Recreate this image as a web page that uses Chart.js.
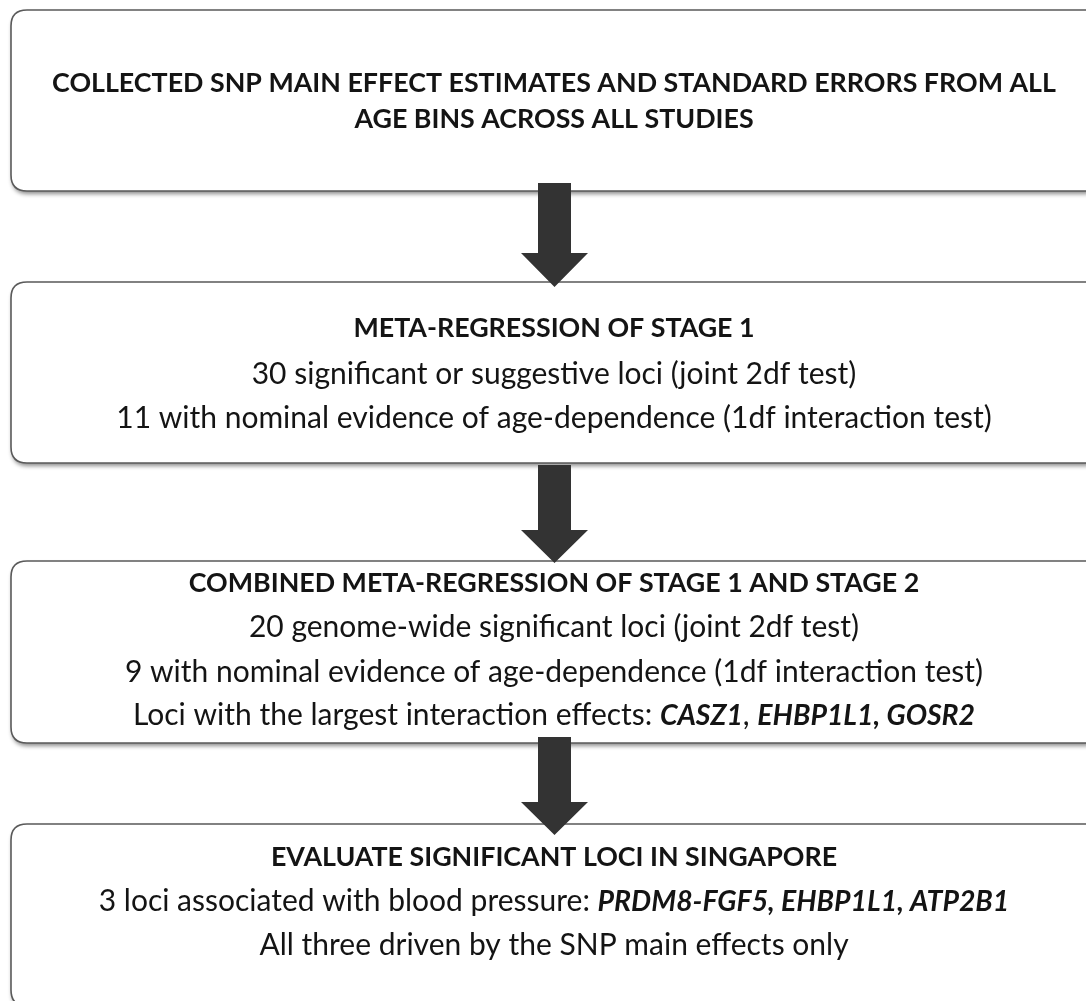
<!DOCTYPE html>
<html>
<head>
<meta charset="utf-8">
<script src="https://cdn.jsdelivr.net/npm/chart.js@4.4.0/dist/chart.umd.min.js"></script>
<style>
  html, body { margin: 0; padding: 0; background: #fff; }
  canvas { display: block; }
</style>
</head>
<body>
<canvas id="flujo" width="1086" height="1001"></canvas>
<script>
// Texto de cada etapa (los tramos entre * van en negrita cursiva)
const titulos = [
  'COLLECTED SNP MAIN EFFECT ESTIMATES AND STANDARD ERRORS FROM ALL|AGE BINS ACROSS ALL STUDIES',
  'META-REGRESSION OF STAGE 1',
  'COMBINED META-REGRESSION OF STAGE 1 AND STAGE 2',
  'EVALUATE SIGNIFICANT LOCI IN SINGAPORE'
];
const lineasEtapa1 = [];
const lineasEtapa2 = [
  '30 significant or suggestive loci (joint 2df test)',
  '11 with nominal evidence of age-dependence (1df interaction test)'
];
const lineasEtapa3 = [
  '20 genome-wide significant loci (joint 2df test)',
  '9 with nominal evidence of age-dependence (1df interaction test)',
  'Loci with the largest interaction effects: *CASZ1*, *EHBP1L1, GOSR2*'
];
const lineasEtapa4 = [
  '3 loci associated with blood pressure: *PRDM8-FGF5, EHBP1L1, ATP2B1*',
  'All three driven by the SNP main effects only'
];
const etapas = [lineasEtapa1, lineasEtapa2, lineasEtapa3, lineasEtapa4];

// Geometría de las cajas (en unidades de la escala, y hacia abajo)
const cajas = [
  { top: 10, bottom: 191, lineas: [83, 119] },
  { top: 282, bottom: 463, lineas: [328, 374, 418] },
  { top: 561, bottom: 743, lineas: [583, 627, 672, 715] },
  { top: 824, bottom: 1006, lineas: [857, 901, 945] }
];
const flechas = [
  { top: 183, cabeza: 253, punta: 287 },
  { top: 465, cabeza: 530, punta: 563 },
  { top: 737, cabeza: 802, punta: 835 }
];

const FUENTE = 'Lato, "Open Sans", sans-serif';
const TAM_TITULO = 26.8;
const TAM_TEXTO = 30;
const TAM_CURSIVA = 28.4;
const CENTRO_X = 554;

function cajaRedondeada(ctx, x0, y0, x1, y1, r) {
  ctx.beginPath();
  ctx.moveTo(x0 + r, y0);
  ctx.lineTo(x1 - r, y0);
  ctx.quadraticCurveTo(x1, y0, x1, y0 + r);
  ctx.lineTo(x1, y1 - r);
  ctx.quadraticCurveTo(x1, y1, x1 - r, y1);
  ctx.lineTo(x0 + r, y1);
  ctx.quadraticCurveTo(x0, y1, x0, y1 - r);
  ctx.lineTo(x0, y0 + r);
  ctx.quadraticCurveTo(x0, y0, x0 + r, y0);
  ctx.closePath();
}

function fuenteTramo(bi) {
  return bi ? 'italic bold ' + TAM_CURSIVA + 'px ' + FUENTE : TAM_TEXTO + 'px ' + FUENTE;
}

function dibujarLinea(ctx, texto, cx, y) {
  const tramos = texto.split('*').map((t, i) => ({ t: t, bi: i % 2 === 1 }));
  let ancho = 0;
  tramos.forEach(tr => {
    ctx.font = fuenteTramo(tr.bi);
    tr.w = ctx.measureText(tr.t).width;
    ancho += tr.w;
  });
  let x = cx - ancho / 2;
  tramos.forEach(tr => {
    ctx.font = fuenteTramo(tr.bi);
    ctx.fillText(tr.t, x, y + (tr.bi ? 0.5 : 0));
    x += tr.w;
  });
}

const pluginFlujo = {
  id: 'flujo',
  afterDraw(chart) {
    const ctx = chart.ctx;
    const sx = chart.scales.x, sy = chart.scales.y;
    const px = v => sx.getPixelForValue(v);
    const py = v => sy.getPixelForValue(v);

    // cajas con sombra
    cajas.forEach(c => {
      ctx.save();
      ctx.shadowColor = 'rgba(0,0,0,0.45)';
      ctx.shadowBlur = 4;
      ctx.shadowOffsetX = 1;
      ctx.shadowOffsetY = 3;
      cajaRedondeada(ctx, px(11), py(c.top), px(1100), py(c.bottom), 16);
      ctx.fillStyle = '#ffffff';
      ctx.fill();
      ctx.restore();
      ctx.save();
      cajaRedondeada(ctx, px(11), py(c.top), px(1100), py(c.bottom), 16);
      ctx.strokeStyle = '#5a5a5a';
      ctx.lineWidth = 1.6;
      ctx.stroke();
      ctx.restore();
    });

    // textos
    ctx.save();
    ctx.fillStyle = '#141414';
    ctx.textBaseline = 'middle';
    ctx.textAlign = 'left';
    cajas.forEach((c, i) => {
      const tit = titulos[i].split('|');
      const lineas = tit.map(t => ({ t: t, titulo: true })).concat(etapas[i].map(t => ({ t: t, titulo: false })));
      lineas.forEach((l, j) => {
        if (l.titulo) {
          ctx.font = 'bold ' + TAM_TITULO + 'px ' + FUENTE;
          const w = ctx.measureText(l.t).width;
          ctx.fillText(l.t, px(CENTRO_X) - w / 2, py(c.lineas[j]));
        } else {
          dibujarLinea(ctx, l.t, px(CENTRO_X), py(c.lineas[j]));
        }
      });
    });
    ctx.restore();

    // flechas
    ctx.save();
    ctx.fillStyle = '#333333';
    flechas.forEach(f => {
      ctx.beginPath();
      ctx.moveTo(px(538), py(f.top));
      ctx.lineTo(px(571), py(f.top));
      ctx.lineTo(px(571), py(f.cabeza));
      ctx.lineTo(px(588), py(f.cabeza));
      ctx.lineTo(px(554.5), py(f.punta));
      ctx.lineTo(px(521), py(f.cabeza));
      ctx.lineTo(px(538), py(f.cabeza));
      ctx.closePath();
      ctx.fill();
    });
    ctx.restore();
  }
};

new Chart(document.getElementById('flujo').getContext('2d'), {
  type: 'scatter',
  data: { datasets: [{ data: [], showLine: false }] },
  options: {
    responsive: false,
    animation: false,
    events: [],
    layout: { padding: 0 },
    plugins: { legend: { display: false }, tooltip: { enabled: false } },
    scales: {
      x: { type: 'linear', min: 0, max: 1086, display: false },
      y: { type: 'linear', min: 0, max: 1001, reverse: true, display: false }
    }
  },
  plugins: [pluginFlujo]
});
</script>
</body>
</html>
